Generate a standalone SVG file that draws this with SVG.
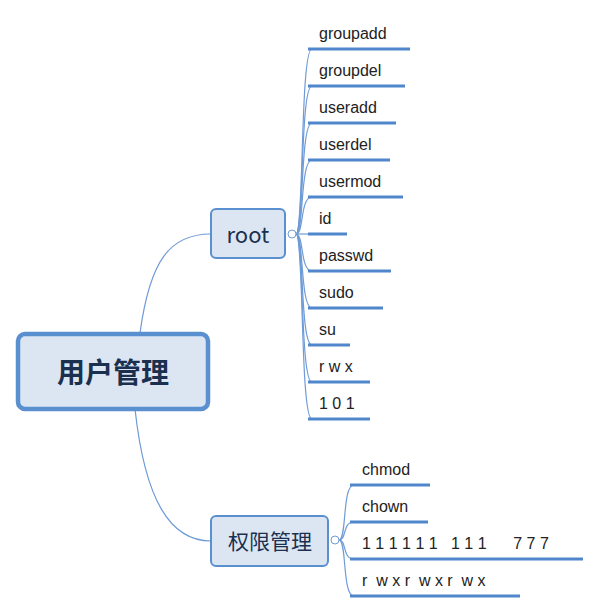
<svg xmlns="http://www.w3.org/2000/svg" width="602" height="613" viewBox="0 0 602 613">
<style>
.box{fill:#dce6f3;stroke:#5a8fd0;stroke-width:2}
.main{fill:#dce6f3;stroke:#5a8fd0;stroke-width:4.5}
.nt{font-family:"Noto Sans CJK SC","Liberation Sans",sans-serif;fill:#1b2f4f;text-anchor:middle}
.lt{font-family:"Liberation Sans","Noto Sans",sans-serif;font-size:16px;fill:#222}
.ul{stroke:#4f86cc;stroke-width:3}
.cn{fill:none;stroke:#6f9bd6;stroke-width:1.2}
.tg{fill:#fff;stroke:#6f9bd6;stroke-width:1}
</style>
<rect width="602" height="613" fill="#fff"/>
<g id="connectors">
<path class="cn" d="M140,333 C150,260 170,234 211,234"/>
<path class="cn" d="M135,409 C145,500 170,541 211,541"/>
<g id="root-branches">
<path class="cn" d="M296,234 C304,234 300,49 312,49"/>
<path class="cn" d="M296,234 C304,234 300,86 312,86"/>
<path class="cn" d="M296,234 C304,234 300,123 312,123"/>
<path class="cn" d="M296,234 C304,234 300,160 312,160"/>
<path class="cn" d="M296,234 C304,234 300,197 312,197"/>
<path class="cn" d="M296,234 L312,234"/>
<path class="cn" d="M296,234 C304,234 300,271 312,271"/>
<path class="cn" d="M296,234 C304,234 300,308 312,308"/>
<path class="cn" d="M296,234 C304,234 300,345 312,345"/>
<path class="cn" d="M296,234 C304,234 300,382 312,382"/>
<path class="cn" d="M296,234 C304,234 300,419 312,419"/>
</g>
<g id="perm-branches">
<path class="cn" d="M339,540 C347,540 342,485 354,485"/>
<path class="cn" d="M339,540 C347,540 342,522 354,522"/>
<path class="cn" d="M339,540 C347,540 342,559 354,559"/>
<path class="cn" d="M339,540 C347,540 342,596 354,596"/>
</g>
<circle class="tg" cx="292" cy="234" r="4"/>
<circle class="tg" cx="335" cy="540" r="4"/>
</g>
<g id="main"><rect class="main" x="18" y="334" width="190" height="75" rx="7"/><text class="nt" x="113" y="383" font-size="28" font-weight="bold">用户管理</text></g>
<g id="root"><rect class="box" x="211" y="209" width="74" height="49" rx="5"/><text class="nt" x="248" y="243" font-size="22">root</text></g>
<g id="perm"><rect class="box" x="211" y="516" width="117" height="50" rx="5"/><text class="nt" x="270" y="549" font-size="21">权限管理</text></g>
<g id="leaves">
<g id="groupadd"><line class="ul" x1="308" y1="49" x2="410" y2="49"/><text class="lt" x="319" y="39">groupadd</text></g>
<g id="groupdel"><line class="ul" x1="308" y1="86" x2="405" y2="86"/><text class="lt" x="319" y="76">groupdel</text></g>
<g id="useradd"><line class="ul" x1="308" y1="123" x2="396" y2="123"/><text class="lt" x="319" y="113">useradd</text></g>
<g id="userdel"><line class="ul" x1="308" y1="160" x2="390" y2="160"/><text class="lt" x="319" y="150">userdel</text></g>
<g id="usermod"><line class="ul" x1="308" y1="197" x2="403" y2="197"/><text class="lt" x="319" y="187">usermod</text></g>
<g id="id"><line class="ul" x1="308" y1="234" x2="347" y2="234"/><text class="lt" x="319" y="224">id</text></g>
<g id="passwd"><line class="ul" x1="308" y1="271" x2="391" y2="271"/><text class="lt" x="319" y="261">passwd</text></g>
<g id="sudo"><line class="ul" x1="308" y1="308" x2="383" y2="308"/><text class="lt" x="319" y="298">sudo</text></g>
<g id="su"><line class="ul" x1="308" y1="345" x2="350" y2="345"/><text class="lt" x="319" y="335">su</text></g>
<g id="rwx"><line class="ul" x1="308" y1="382" x2="370" y2="382"/><text class="lt" x="319" y="372">r w x</text></g>
<g id="n101"><line class="ul" x1="308" y1="419" x2="370" y2="419"/><text class="lt" x="319" y="409">1 0 1</text></g>
<g id="chmod"><line class="ul" x1="350" y1="485" x2="430" y2="485"/><text class="lt" x="362" y="475">chmod</text></g>
<g id="chown"><line class="ul" x1="350" y1="522" x2="428" y2="522"/><text class="lt" x="362" y="512">chown</text></g>
<g id="bits"><line class="ul" x1="350" y1="559" x2="583" y2="559"/><text class="lt" x="362" y="549" xml:space="preserve">1 1 1 1 1 1   1 1 1      7 7 7</text></g>
<g id="rwx3"><line class="ul" x1="350" y1="596" x2="520" y2="596"/><text class="lt" x="362" y="586" xml:space="preserve">r  w x r  w x r  w x</text></g>
</g>
</svg>
